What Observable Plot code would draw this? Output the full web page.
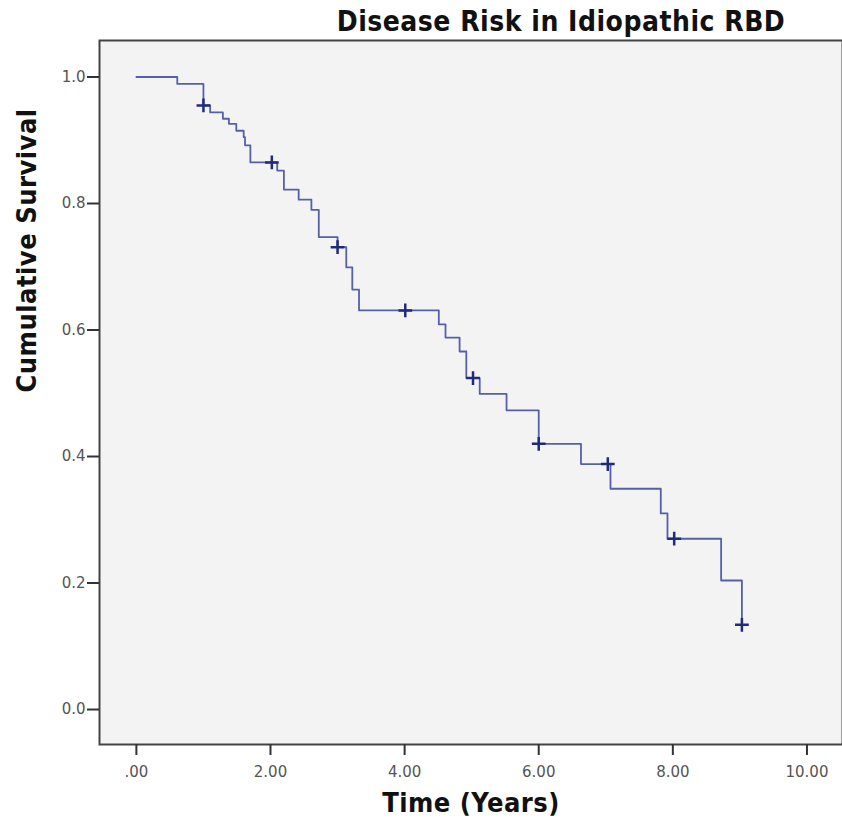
<!DOCTYPE html>
<html>
<head>
<meta charset="utf-8">
<script src="https://cdn.jsdelivr.net/npm/d3@7"></script>
<script src="https://cdn.jsdelivr.net/npm/@observablehq/plot@0.6"></script>
<style>
  html, body { margin: 0; padding: 0; background: #ffffff; }
  #chart { width: 842px; height: 819px; }
  .lbl text { letter-spacing: 0.5px; }
</style>
</head>
<body>
<div id="chart"></div>
<script>
// Kaplan-Meier step curve (time in years, cumulative survival after the step)
const stepTimes = [0, 0.61, 1.0, 1.10, 1.29, 1.38, 1.49, 1.60, 1.62, 1.70, 2.10, 2.20, 2.42, 2.61, 2.72, 3.0, 3.13, 3.22, 3.32, 4.51, 4.61, 4.82, 4.92, 5.12, 5.52, 6.0, 6.63, 7.07, 7.82, 7.92, 8.72, 9.03];
const stepSurvival = [1.0, 0.989, 0.955, 0.944, 0.934, 0.926, 0.915, 0.905, 0.892, 0.865, 0.852, 0.822, 0.806, 0.790, 0.747, 0.731, 0.699, 0.664, 0.631, 0.609, 0.588, 0.566, 0.524, 0.499, 0.473, 0.420, 0.388, 0.349, 0.310, 0.270, 0.204, 0.134];

// Censored observations
const censorTimes = [1.0, 2.02, 3.0, 4.01, 5.02, 6.0, 7.03, 8.02, 9.03];
const censorSurvival = [0.955, 0.865, 0.731, 0.631, 0.524, 0.420, 0.388, 0.270, 0.134];

const xTicks = [0, 2, 4, 6, 8, 10];
const yTicks = [0, 0.2, 0.4, 0.6, 0.8, 1.0];

const titleText = "Disease Risk in Idiopathic RBD";
const xLabel = "Time (Years)";
const yLabel = "Cumulative Survival";

const steps = stepTimes.map((t, i) => ({t, s: stepSurvival[i]}));
const censors = censorTimes.map((t, i) => ({t, s: censorSurvival[i]}));

const xFmt = d => { const s = d3.format(".2f")(d); return s.startsWith("0.") ? s.slice(1) : s; };
const labelFont = "'DejaVu Sans Condensed', 'DejaVu Sans', sans-serif";

const chart = Plot.plot({
  width: 842,
  height: 819,
  marginTop: 40,
  marginBottom: 75,
  marginLeft: 99,
  marginRight: 0,
  style: { fontFamily: "'DejaVu Sans', sans-serif", fontSize: "15px", color: "#555", background: "#ffffff" },
  x: { domain: [-0.55, 10.53] },
  y: { domain: [-0.0553, 1.0577] },
  marks: [
    Plot.frame({ fill: "#f3f3f3", stroke: null }),
    Plot.line(steps, { x: "t", y: "s", curve: "step-after", stroke: "#5560a8", strokeWidth: 1.8 }),
    Plot.dot(censors, { x: "t", y: "s", symbol: "plus", r: 4.5, stroke: "#1f2a7a", strokeWidth: 2.5 }),
    Plot.frame({ stroke: "#444", strokeWidth: 2 }),
    Plot.axisX({ ticks: xTicks, tickFormat: xFmt, tickSize: 11, tickPadding: 11, stroke: "#333", strokeWidth: 2, label: null, fill: "#555" }),
    Plot.axisY({ ticks: yTicks, tickFormat: d3.format(".1f"), tickSize: 12, tickPadding: 2, stroke: "#333", strokeWidth: 2, label: null, fill: "#555" }),
    Plot.text([titleText], { frameAnchor: "top", lineAnchor: "middle", dy: -18, dx: 90, text: d => d, fontSize: 28, fontWeight: "bold", fill: "#111", fontFamily: labelFont, className: "lbl" }),
    Plot.text([xLabel], { frameAnchor: "bottom", lineAnchor: "middle", dy: 59, text: d => d, fontSize: 27, fontWeight: "bold", fill: "#111", fontFamily: labelFont, className: "lbl" }),
    Plot.text([yLabel], { frameAnchor: "left", lineAnchor: "middle", dx: -72, rotate: -90, text: d => d, fontSize: 27, fontWeight: "bold", fill: "#111", fontFamily: labelFont, className: "lbl" })
  ]
});
document.getElementById("chart").appendChild(chart);
</script>
</body>
</html>
